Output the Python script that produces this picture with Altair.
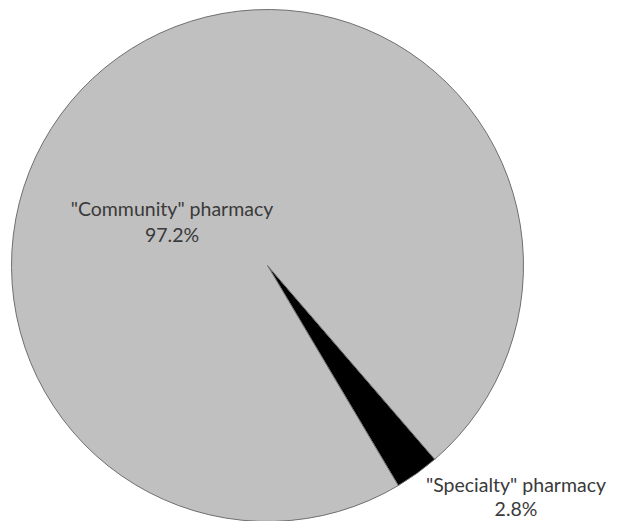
import altair as alt
import pandas as pd
import math

categories = ['"Specialty" pharmacy', '"Community" pharmacy']
shares = [2.8, 97.2]
colors = ["#000000", "#c0c0c0"]
order = [0, 1]

df = pd.DataFrame({"category": categories, "share": shares, "order": order})

start = math.radians(139.2)
W, H = 603, 513
cx, cy, R = 259.5, 257.5, 256

pie = alt.Chart(df).mark_arc(radius=R, stroke="#6f6f6f", strokeWidth=1).encode(
    x=alt.value(cx),
    y=alt.value(cy),
    theta=alt.Theta("share:Q", stack=True, scale=alt.Scale(range=[start, start + 2 * math.pi])),
    color=alt.Color("category:N", scale=alt.Scale(domain=categories, range=colors), legend=None),
    order=alt.Order("order:Q"),
)

lab = pd.DataFrame({
    "category": categories,
    "label": [[c, f"{s}%"] for c, s in zip(categories, shares)],
})

lab_comm = alt.Chart(lab).transform_filter(alt.datum.category == categories[1]).mark_text(
    font="Lato", fontSize=19.5, color="#3a3a3a", align="center", baseline="middle", lineHeight=26
).encode(x=alt.value(164), y=alt.value(202), text="label")

lab_spec = alt.Chart(lab).transform_filter(alt.datum.category == categories[0]).mark_text(
    font="Lato", fontSize=19.5, color="#3a3a3a", align="center", baseline="middle", lineHeight=24
).encode(x=alt.value(508), y=alt.value(478), text="label")

chart = alt.layer(pie, lab_comm, lab_spec).properties(
    width=W, height=H, padding=0, autosize=alt.AutoSizeParams(type="none")
).configure_view(stroke=None)

chart.save("out.html", embed_options={"renderer": "svg", "actions": False})
